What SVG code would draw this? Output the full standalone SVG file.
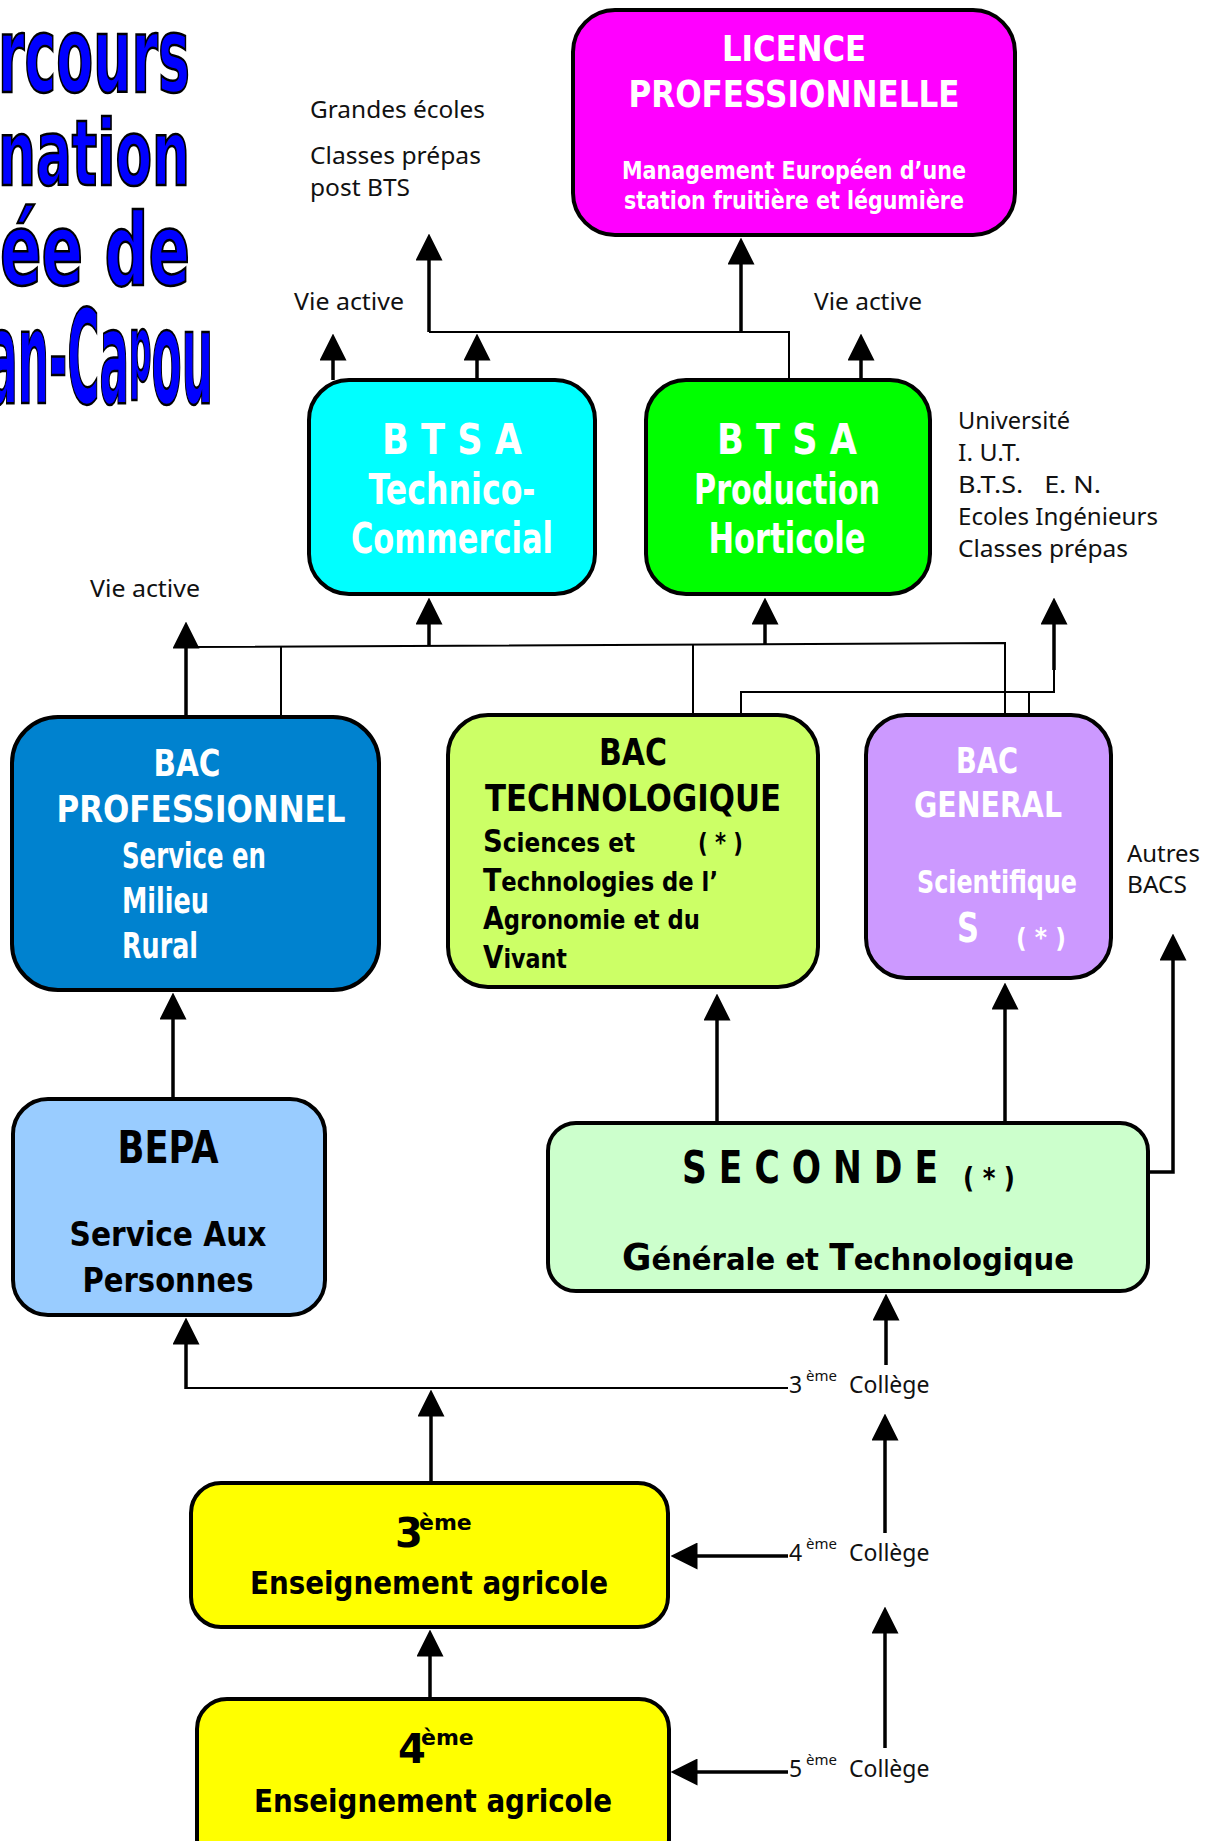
<svg xmlns="http://www.w3.org/2000/svg" width="1216" height="1841" viewBox="0 0 1216 1841">
<defs>
<style>
.box{stroke:#000;stroke-width:4}
.h{font-family:"DejaVu Sans","Liberation Sans",sans-serif;font-weight:bold}
.w{fill:#fff}
.k{fill:#000}
.lbl{font-family:"Noto Sans","DejaVu Sans",sans-serif;font-size:23px;fill:#111}
.title{font-family:"DejaVu Sans Condensed","DejaVu Sans",sans-serif;font-stretch:condensed;font-weight:bold;fill:#0000ff;stroke:#000;stroke-width:2.5}
.thick{stroke:#000;stroke-width:3.5;fill:none}
.thin{stroke:#000;stroke-width:2;fill:none}
</style>
<marker id="ah" viewBox="0 0 27 27" markerWidth="27" markerHeight="27" refX="0.5" refY="13.5" orient="auto" markerUnits="userSpaceOnUse">
<path d="M0,0 L27,13.5 L0,27 z" fill="#000"/>
</marker>
</defs>
<rect width="1216" height="1841" fill="#fff"/>

<g id="title">
<text class="title" x="-2" y="92" font-size="106" textLength="192" lengthAdjust="spacingAndGlyphs">rcours</text>
<text class="title" x="-2" y="185" font-size="91" textLength="192" lengthAdjust="spacingAndGlyphs">nation</text>
<text class="title" x="0" y="285" font-size="100" textLength="190" lengthAdjust="spacingAndGlyphs">ée de</text>
<text class="title" x="-12" y="403" font-size="130" textLength="225" lengthAdjust="spacingAndGlyphs">an-Ca<tspan font-size="93" dy="-22">p</tspan><tspan dy="22">ou</tspan></text>
</g>

<g id="labels">
<text class="lbl" x="310" y="118" textLength="175" lengthAdjust="spacingAndGlyphs">Grandes écoles</text>
<text class="lbl" x="310" y="164" textLength="171" lengthAdjust="spacingAndGlyphs">Classes prépas</text>
<text class="lbl" x="310" y="196" textLength="100" lengthAdjust="spacingAndGlyphs">post BTS</text>
<text class="lbl" x="294" y="310" textLength="110" lengthAdjust="spacingAndGlyphs">Vie active</text>
<text class="lbl" x="814" y="310" textLength="108" lengthAdjust="spacingAndGlyphs">Vie active</text>
<text class="lbl" x="90" y="597" textLength="110" lengthAdjust="spacingAndGlyphs">Vie active</text>
<text class="lbl" x="958" y="429" textLength="112" lengthAdjust="spacingAndGlyphs">Université</text>
<text class="lbl" x="958" y="461" textLength="63" lengthAdjust="spacingAndGlyphs">I. U.T.</text>
<text class="lbl" x="958" y="493" textLength="143" lengthAdjust="spacingAndGlyphs" xml:space="preserve">B.T.S.   E. N.</text>
<text class="lbl" x="958" y="525" textLength="200" lengthAdjust="spacingAndGlyphs">Ecoles Ingénieurs</text>
<text class="lbl" x="958" y="557" textLength="170" lengthAdjust="spacingAndGlyphs">Classes prépas</text>
<text class="lbl" x="1127" y="862" textLength="73" lengthAdjust="spacingAndGlyphs">Autres</text>
<text class="lbl" x="1127" y="893" textLength="60" lengthAdjust="spacingAndGlyphs">BACS</text>
<text class="lbl"><tspan x="789" y="1393">3</tspan><tspan x="806" y="1381" font-size="15">ème</tspan><tspan x="849" y="1393">Collège</tspan></text>
<text class="lbl"><tspan x="789" y="1561">4</tspan><tspan x="806" y="1549" font-size="15">ème</tspan><tspan x="849" y="1561">Collège</tspan></text>
<text class="lbl"><tspan x="789" y="1777">5</tspan><tspan x="806" y="1765" font-size="15">ème</tspan><tspan x="849" y="1777">Collège</tspan></text>
</g>

<g id="connectors">
<path class="thin" d="M429,332 H789 V380"/>
<path class="thick" d="M429,332 V260" marker-end="url(#ah)"/>
<path class="thick" d="M741,332 V264" marker-end="url(#ah)"/>
<path class="thick" d="M333,380 V360" marker-end="url(#ah)"/>
<path class="thick" d="M477,380 V360" marker-end="url(#ah)"/>
<path class="thick" d="M861,380 V360" marker-end="url(#ah)"/>
<path class="thin" d="M186,647 L1005,643 V715"/>
<path class="thin" d="M281,646 V717"/>
<path class="thin" d="M693,645 V715"/>
<path class="thick" d="M186,717 V648" marker-end="url(#ah)"/>
<path class="thick" d="M429,645 V624" marker-end="url(#ah)"/>
<path class="thick" d="M765,644 V624" marker-end="url(#ah)"/>
<path class="thin" d="M741,715 V692 H1054 V668"/>
<path class="thin" d="M1029,692 V715"/>
<path class="thick" d="M1054,670 V624" marker-end="url(#ah)"/>
<path class="thick" d="M173,1099 V1019" marker-end="url(#ah)"/>
<path class="thick" d="M717,1123 V1020" marker-end="url(#ah)"/>
<path class="thick" d="M1005,1123 V1009" marker-end="url(#ah)"/>
<path class="thick" d="M1148,1172 H1173 V960" marker-end="url(#ah)"/>
<path class="thin" d="M788,1388 H186"/>
<path class="thick" d="M186,1389 V1344" marker-end="url(#ah)"/>
<path class="thick" d="M431,1483 V1416" marker-end="url(#ah)"/>
<path class="thick" d="M886,1365 V1320" marker-end="url(#ah)"/>
<path class="thick" d="M885,1533 V1440" marker-end="url(#ah)"/>
<path class="thick" d="M788,1556 H697" marker-end="url(#ah)"/>
<path class="thick" d="M885,1748 V1633" marker-end="url(#ah)"/>
<path class="thick" d="M788,1772 H697" marker-end="url(#ah)"/>
<path class="thick" d="M430,1699 V1656" marker-end="url(#ah)"/>
</g>

<g id="licence">
<rect class="box" x="573" y="10" width="442" height="225" rx="42" fill="#ff00ff"/>
<text class="h w" x="794" y="61" font-size="36" text-anchor="middle" textLength="144" lengthAdjust="spacingAndGlyphs">LICENCE</text>
<text class="h w" x="794" y="107" font-size="38" text-anchor="middle" textLength="331" lengthAdjust="spacingAndGlyphs">PROFESSIONNELLE</text>
<text class="h w" x="794" y="179" font-size="25" font-weight="600" text-anchor="middle" textLength="344" lengthAdjust="spacingAndGlyphs">Management Européen d’une</text>
<text class="h w" x="794" y="209" font-size="25" font-weight="600" text-anchor="middle" textLength="340" lengthAdjust="spacingAndGlyphs">station fruitière et légumière</text>
</g>

<g id="btsa-tc">
<rect class="box" x="309" y="380" width="286" height="214" rx="40" fill="#00ffff"/>
<text class="h w" x="452" y="454" font-size="42" text-anchor="middle" textLength="140" lengthAdjust="spacingAndGlyphs">B T S A</text>
<text class="h w" x="452" y="504" font-size="42" text-anchor="middle" textLength="167" lengthAdjust="spacingAndGlyphs">Technico-</text>
<text class="h w" x="452" y="553" font-size="42" text-anchor="middle" textLength="202" lengthAdjust="spacingAndGlyphs">Commercial</text>
</g>

<g id="btsa-ph">
<rect class="box" x="646" y="380" width="284" height="214" rx="40" fill="#00ff00"/>
<text class="h w" x="787" y="454" font-size="42" text-anchor="middle" textLength="140" lengthAdjust="spacingAndGlyphs">B T S A</text>
<text class="h w" x="787" y="504" font-size="42" text-anchor="middle" textLength="186" lengthAdjust="spacingAndGlyphs">Production</text>
<text class="h w" x="787" y="553" font-size="42" text-anchor="middle" textLength="157" lengthAdjust="spacingAndGlyphs">Horticole</text>
</g>

<g id="bac-pro">
<rect class="box" x="12" y="717" width="367" height="273" rx="46" fill="#0082cf"/>
<text class="h w" x="187" y="776" font-size="38" text-anchor="middle" textLength="67" lengthAdjust="spacingAndGlyphs">BAC</text>
<text class="h w" x="201" y="822" font-size="38" text-anchor="middle" textLength="289" lengthAdjust="spacingAndGlyphs">PROFESSIONNEL</text>
<text class="h w" x="122" y="868" font-size="35" textLength="144" lengthAdjust="spacingAndGlyphs">Service en</text>
<text class="h w" x="122" y="913" font-size="35" textLength="87" lengthAdjust="spacingAndGlyphs">Milieu</text>
<text class="h w" x="122" y="958" font-size="35" textLength="76" lengthAdjust="spacingAndGlyphs">Rural</text>
</g>

<g id="bac-techno">
<rect class="box" x="448" y="715" width="370" height="272" rx="40" fill="#ccff66"/>
<text class="h k" x="633" y="765" font-size="37" text-anchor="middle" textLength="68" lengthAdjust="spacingAndGlyphs">BAC</text>
<text class="h k" x="633" y="811" font-size="37" text-anchor="middle" textLength="296" lengthAdjust="spacingAndGlyphs">TECHNOLOGIQUE</text>
<text class="h k" x="483" y="852" font-size="27" textLength="152" lengthAdjust="spacingAndGlyphs"><tspan font-size="32">S</tspan>ciences et</text>
<text class="h k" x="698" y="852" font-size="27" textLength="45" lengthAdjust="spacingAndGlyphs">( * )</text>
<text class="h k" x="483" y="891" font-size="27" textLength="235" lengthAdjust="spacingAndGlyphs"><tspan font-size="32">T</tspan>echnologies de l’</text>
<text class="h k" x="483" y="929" font-size="27" textLength="217" lengthAdjust="spacingAndGlyphs"><tspan font-size="32">A</tspan>gronomie et du</text>
<text class="h k" x="483" y="968" font-size="27" textLength="84" lengthAdjust="spacingAndGlyphs"><tspan font-size="32">V</tspan>ivant</text>
</g>

<g id="bac-general">
<rect class="box" x="866" y="715" width="245" height="263" rx="40" fill="#cc99ff"/>
<text class="h w" x="987" y="773" font-size="36" text-anchor="middle" textLength="62" lengthAdjust="spacingAndGlyphs">BAC</text>
<text class="h w" x="988" y="817" font-size="36" text-anchor="middle" textLength="148" lengthAdjust="spacingAndGlyphs">GENERAL</text>
<text class="h w" x="997" y="893" font-size="32" text-anchor="middle" textLength="160" lengthAdjust="spacingAndGlyphs">Scientifique</text>
<text class="h w" x="957" y="942" font-size="40" textLength="22" lengthAdjust="spacingAndGlyphs">S</text>
<text class="h w" x="1016" y="947" font-size="27" font-weight="normal" textLength="50" lengthAdjust="spacingAndGlyphs">( * )</text>
</g>

<g id="bepa">
<rect class="box" x="13" y="1099" width="312" height="216" rx="35" fill="#99ccff"/>
<text class="h k" x="168" y="1163" font-size="44" text-anchor="middle" textLength="101" lengthAdjust="spacingAndGlyphs">BEPA</text>
<text class="h k" x="168" y="1246" font-size="34" text-anchor="middle" textLength="197" lengthAdjust="spacingAndGlyphs">Service Aux</text>
<text class="h k" x="168" y="1292" font-size="34" text-anchor="middle" textLength="171" lengthAdjust="spacingAndGlyphs">Personnes</text>
</g>

<g id="seconde">
<rect class="box" x="548" y="1123" width="600" height="168" rx="28" fill="#ccffcc"/>
<text class="h k" x="682" y="1183" font-size="44" textLength="256" lengthAdjust="spacingAndGlyphs">S E C O N D E</text>
<text class="h k" x="963" y="1188" font-size="28" textLength="52" lengthAdjust="spacingAndGlyphs">( * )</text>
<text class="h k" x="622" y="1270" font-size="30" textLength="452" lengthAdjust="spacingAndGlyphs"><tspan font-size="37">G</tspan>énérale et <tspan font-size="37">T</tspan>echnologique</text>
</g>

<g id="troisieme">
<rect class="box" x="191" y="1483" width="477" height="144" rx="30" fill="#ffff00"/>
<text class="h k"><tspan x="395" y="1547" font-size="40">3</tspan><tspan x="419" y="1530" font-size="22">ème</tspan></text>
<text class="h k" x="429" y="1594" font-size="32" text-anchor="middle" textLength="358" lengthAdjust="spacingAndGlyphs">Enseignement agricole</text>
</g>

<g id="quatrieme">
<rect class="box" x="197" y="1699" width="472" height="170" rx="30" fill="#ffff00"/>
<text class="h k"><tspan x="398" y="1763" font-size="40">4</tspan><tspan x="421" y="1745" font-size="22">ème</tspan></text>
<text class="h k" x="433" y="1812" font-size="32" text-anchor="middle" textLength="358" lengthAdjust="spacingAndGlyphs">Enseignement agricole</text>
</g>
</svg>
